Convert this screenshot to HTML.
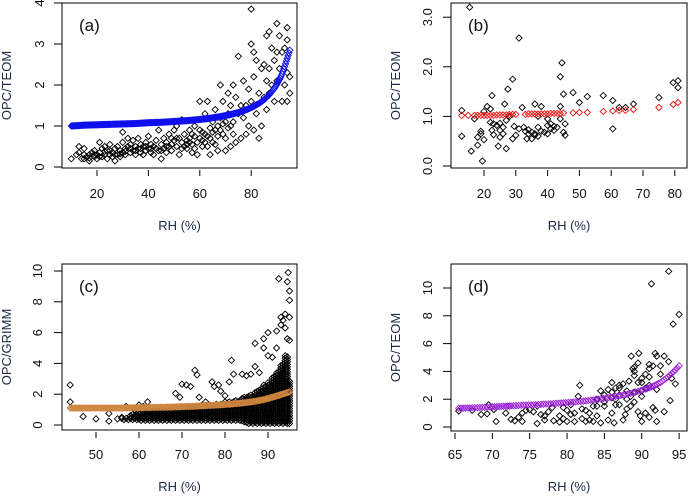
<!DOCTYPE html>
<html><head><meta charset="utf-8">
<style>
body{margin:0;background:#fff;}
svg text{font-family:"Liberation Sans",sans-serif;}
</style></head>
<body>
<svg id="chart" width="688" height="495" viewBox="0 0 688 495" xmlns="http://www.w3.org/2000/svg"></svg>
<script>
// ---------- DATA ----------
const aPoints = "10,0.2 12,0.3 13,0.35 13,0.5 14,0.2 15,0.3 15,0.45 16,0.25 17,0.3 17,0.15 18,0.35 19,0.25 19,0.4 20,0.2 20,0.3 21,0.6 21,0.35 22,0.25 22,0.45 23,0.3 23,0.5 24,0.2 24,0.4 25,0.3 25,0.55 26,0.35 26,0.25 27,0.45 27,0.15 28,0.3 28,0.5 29,0.4 29,0.25 30,0.35 30,0.6 30,0.85 31,0.45 31,0.3 32,0.5 32,0.7 33,0.35 33,0.55 34,0.4 34,0.65 35,0.3 35,0.5 36,0.7 36,0.45 37,0.35 37,0.55 38,0.5 38,0.3 39,0.6 39,0.4 40,0.45 40,0.75 41,0.35 41,0.55 42,0.5 42,0.3 43,0.65 44,0.4 44,0.9 45,0.55 45,0.2 46,0.45 46,0.7 47,0.6 47,0.35 48,0.5 48,0.8 49,0.55 49,0.4 50,0.65 50,0.9 51,0.5 51,1.0 52,0.7 52,0.3 53,0.6 53,1.15 54,0.5 54,0.8 55,0.65 55,0.45 56,0.7 56,0.9 57,0.55 57,0.35 58,0.75 58,1.0 59,0.6 59,0.3 60,0.7 60,1.6 61,0.5 61,0.85 62,0.6 62,1.3 63,0.75 63,1.6 64,0.95 64,0.3 65,0.6 65,1.1 66,0.9 66,1.4 67,1.0 67,0.4 68,1.2 68,2.0 69,0.8 69,1.6 70,1.1 70,0.4 71,1.3 71,1.8 72,0.5 72,1.5 73,2.0 73,1.1 74,0.6 74,1.7 75,2.7 75,1.3 76,0.7 76,1.5 77,1.2 77,2.1 78,0.8 78,1.5 79,1.9 79,1.0 80,3.85 80,3.0 80,1.6 81,2.8 81,0.9 81,2.2 82,2.6 82,1.3 83,1.8 83,0.7 84,2.4 84,1.0 85,2.5 85,1.7 86,3.2 86,2.1 86,1.4 87,3.3 87,2.4 87,1.8 88,2.9 88,2.0 89,2.6 89,1.6 90,3.5 90,2.8 90,2.1 91,3.2 91,2.4 92,2.8 92,1.6 93,2.9 93,2.0 94,3.4 94,3.1 94,2.3 94,1.6 95,2.2 95,1.8 60,0.9 61,0.65 62,0.8 63,0.5 64,0.7 65,0.85 66,0.55 67,0.75 68,0.9 69,1.05 70,0.7 71,0.95 72,1.0 73,0.8 55,0.55 56,0.6 57,0.8 58,0.45 53,0.45 51,0.7 49,0.7 47,0.5 45,0.4 43,0.45 41,0.45 39,0.5 37,0.45 35,0.4 33,0.45 31,0.38 29,0.32 27,0.3 25,0.4 23,0.38 21,0.25 19,0.3 17,0.22 15,0.2";
const aFitX = [10,15,20,25,30,35,40,45,50,55,60,63,66,69,72,75,77,79,81,83,85,86,87,88,89,90,91,92,93,94,95];
const aFitY = [1.0,1.02,1.03,1.04,1.05,1.06,1.08,1.09,1.11,1.13,1.16,1.18,1.21,1.24,1.28,1.33,1.37,1.42,1.48,1.55,1.64,1.7,1.76,1.84,1.92,2.02,2.13,2.27,2.45,2.65,2.85];

const bPoints = "13,1.12 13,0.6 15.5,3.2 16,0.3 17,0.95 18,0.42 18,0.58 19,0.7 19,0.65 19.5,0.1 20,1.1 20,0.53 21,1.2 22,1.15 22,0.88 22.5,1.42 22.5,0.72 23,0.85 23,0.63 24,0.82 24.5,0.4 25,0.86 25,0.72 25,0.58 26,0.78 26,0.65 26.5,1.25 27,0.35 27,0.92 27.5,1.55 28,1.0 29,1.75 29,0.55 29.5,0.8 30,0.62 31,2.58 31,0.75 32,1.18 32.5,0.78 33,0.7 33.5,0.55 34,0.73 34,0.65 35,0.55 35,0.68 36,1.25 36,0.65 36,0.62 37,1.0 37,0.78 37,0.6 38,1.2 38,0.7 39,0.68 40,0.95 40,0.82 40,0.65 41,0.75 41,0.85 42,0.72 42,0.8 43,0.78 44,1.8 44,1.2 44,0.95 44.5,2.08 45,1.45 45,0.68 45.5,0.62 45.5,0.85 48,1.48 50,1.28 52.5,1.4 57.5,1.42 60.5,1.32 60.5,0.75 62.5,1.18 64.5,1.18 67,1.25 75,1.38 79.5,1.68 81,1.72 81,1.58";
const bFitX = [13,15,17,18,19,20,21,22,23,24,25,26,27,28,29,30,33,34,35,36,37,38,39,40,41,42,43,44,45,48,50,52.5,57.5,60.5,62.5,64.5,67,75,79.5,81];
const bFitY = [1.02,1.02,1.02,1.02,1.02,1.02,1.02,1.02,1.02,1.03,1.03,1.03,1.03,1.04,1.04,1.04,1.04,1.05,1.05,1.05,1.05,1.05,1.05,1.05,1.06,1.06,1.06,1.06,1.07,1.07,1.08,1.08,1.1,1.11,1.12,1.12,1.14,1.18,1.24,1.28];

const cPoints = "44,2.6 44,1.5 47,0.55 50,0.4 53,0.25 53,0.75 55,0.4 56,0.5 57,1.2 58,0.6 59,1.0 60,1.3 61,1.2 62,1.5 68.5,2.05 70,2.65 71,2.6 72,2.5 73,3.55 73.5,3.25 69.5,1.8 74,1.8 75.5,1.5 77,2.8 77.5,2.5 78.5,2.6 79,2.2 80,1.9 81,2.8 81.5,4.2 82,3.3 84,3.3 85,3.2 86,3.3 87,5.3 87,3.8 88,3.4 89,5.6 89,5.0 90,6.0 90,4.5 91,4.4 92,6.1 92,5.0 92.5,9.5 93,7.0 93,6.5 93.5,6.8 94,7.2 94,6.3 94.5,9.3 94.5,5.6 94.7,9.9 95,8.7 95,8.1 95,7.0 94,4.5 95,5.5 95,0.1 94,0.3";
const cCloudX = [56,58,60,62,64,66,68,70,72,74,76,78,80,82,84,85,86,87,88,89,90,91,92,93,94,95];
const cCloudLow = [0.35,0.35,0.3,0.3,0.3,0.3,0.3,0.3,0.3,0.3,0.3,0.3,0.3,0.3,0.2,0.1,0.1,0.1,0.1,0.1,0.1,0.1,0.1,0.1,0.1,0.2];
const cCloudHigh = [0.5,0.7,0.9,0.95,1.0,1.0,1.1,1.2,1.2,1.3,1.3,1.4,1.5,1.6,1.8,1.9,2.0,2.2,2.4,2.6,2.8,3.2,3.5,4.0,4.5,3.0];
const cFitX = [44,46.5,50,52.8,54.5,55.5,56.5,57.5,58.5,59.5,61,63,65,67,69,71,73,75,77,79,81,83,85,87,88,89,90,91,92,93,94,95];
const cFitY = [1.1,1.1,1.1,1.1,1.1,1.1,1.1,1.11,1.12,1.12,1.13,1.14,1.15,1.16,1.18,1.2,1.22,1.25,1.28,1.31,1.35,1.4,1.46,1.54,1.59,1.65,1.72,1.8,1.88,1.97,2.06,2.15];

const dPoints = "65.5,1.15 67.3,1.2 68.5,0.9 69.3,0.95 69.5,1.6 70.5,0.4 70.2,1.25 71.8,1.0 72.5,0.55 73,0.45 73.5,0.7 74,1.0 74,0.4 74.5,1.2 75,1.25 75.5,1.1 76,0.25 76.5,0.9 77,0.5 77.5,1.1 78,1.4 78.2,0.45 79,0.8 79,0.35 79.5,1.4 80,1.2 80,0.4 80.5,0.9 81,1.0 81,0.4 81.5,2.2 81.7,3.0 82,1.3 82,0.6 82.5,0.4 83,0.5 83,1.0 83.5,0.4 84,2.0 84,0.8 84.5,2.6 84.5,0.3 85,1.5 85,1.8 85.5,2.7 85.5,0.5 86,2.1 86,3.2 86,1.0 86.3,0.3 86.5,2.8 87,2.3 87,1.6 87.5,3.1 87.5,0.5 88,2.0 88,1.3 88.3,3.3 88.5,1.5 88.6,5.1 88.8,4.2 89,4.0 89,4.3 89,2.5 89.5,4.6 89.5,3.2 89.6,5.3 89.5,1.1 90,3.5 90,2.2 90,0.4 90.5,3.8 90.5,2.8 90.5,1.0 91,4.2 91,4.5 91,3.0 91,0.7 91.3,10.3 91.5,4.4 91.5,1.4 91.8,5.3 91.8,1.2 92,5.1 92,2.7 92,0.4 92.5,4.4 92.5,3.8 93,5.1 93,1.1 93.6,11.2 93.6,4.7 93.8,1.9 94,3.5 94.2,7.4 94.5,3.1 95,8.1 84,1.5 85,2.3 87,2.8 88.5,2.2 89,1.8 90,2.6 82.5,1.2 83.5,1.5 86.5,1.6 87.8,0.9 89.8,0.8 76,1.5 77,0.8 79.5,0.6 80.5,1.6 86,2.5 86.5,2.0 87,3.0 88,2.6 89,3.7 90,3.2 91,3.6";
const dFitX = [65.5,67.3,69,70,71.8,72.5,73.5,74.5,75.5,76.5,77.5,78.5,79.5,80.5,81.5,82.5,83.5,84.5,85.5,86.5,87.5,88.5,89.5,90.5,91,91.5,92,92.5,93,93.5,94,94.5,95];
const dFitY = [1.35,1.38,1.42,1.45,1.5,1.52,1.55,1.58,1.6,1.63,1.66,1.7,1.74,1.78,1.83,1.88,1.95,2.02,2.1,2.2,2.3,2.42,2.56,2.72,2.82,2.93,3.06,3.2,3.4,3.6,3.85,4.1,4.4];

const aYTicks = ["0","1","2","3","4"], aYVals=[0,1,2,3,4], aXTicks=[20,40,60,80];
const bYTicks = ["0.0","1.0","2.0","3.0"], bYVals=[0,1,2,3], bXTicks=[20,30,40,50,60,70,80];
const cYTicks = ["0","2","4","6","8","10"], cYVals=[0,2,4,6,8,10], cXTicks=[50,60,70,80,90];
const dYTicks = ["0","2","4","6","8","10"], dYVals=[0,2,4,6,8,10], dXTicks=[65,70,75,80,85,90,95];

// ---------- DRAW ----------
const svg = document.getElementById('chart');
const NS = "http://www.w3.org/2000/svg";
function mk(tag, attrs, parent){const e=document.createElementNS(NS,tag);for(const k in attrs)e.setAttribute(k,attrs[k]);(parent||svg).appendChild(e);return e;}
function parsePts(s){return s.trim().split(/\s+/).map(p=>p.split(',').map(Number));}
function diamond(g,x,y,col){
  const r=3.1;
  return mk('path',{d:`M${x} ${y-r}L${x+r} ${y}L${x} ${y+r}L${x-r} ${y}Z`,fill:'none',stroke:col,'stroke-width':0.9},g);
}

function panel(P){
  const g = mk('g',{});
  
  
  const sx = v => P.x0px + (v - P.x0) * P.xs;
  const sy = v => P.y0px - (v - P.y0) * P.ys;
  const box = mk('rect',{x:P.L,y:P.T,width:P.R-P.L,height:P.B-P.T,fill:'none',stroke:'#000','stroke-width':1},g);
  
  
  if(P.cloudX){
    for(let i=0;i<P.cloudX.length;i++){
      const x0=P.cloudX[i], x1=i<P.cloudX.length-1?P.cloudX[i+1]:x0+0.5;
      let row=0;
      for(let xx=x0; xx<x1; xx+=0.5){
        row++;
        for(let yy=P.cloudLow[i]+(row%2)*0.08; yy<=P.cloudHigh[i]; yy+=0.16){
          const c=diamond(g,sx(xx),sy(yy),'#000');
          
          
        }
      }
    }
  }
  parsePts(P.pts).forEach(([x,y])=>{
    const c=diamond(g,sx(x),sy(y),'#000');
    
    
  });
  const fitPts=[];
  for(let i=0;i<P.fitX.length;i++){
    fitPts.push([P.fitX[i],P.fitY[i]]);
    if(P.dense && i<P.fitX.length-1 && P.fitX[i+1]-P.fitX[i]<=5){
      const n=Math.ceil((P.fitX[i+1]-P.fitX[i])/0.35);
      for(let k=1;k<n;k++){const t=k/n;fitPts.push([P.fitX[i]+(P.fitX[i+1]-P.fitX[i])*t,P.fitY[i]+(P.fitY[i+1]-P.fitY[i])*t]);}
    }
  }
  fitPts.forEach(([x,y])=>{
    const c=diamond(g,sx(x),sy(y),P.col);
    
    
  });
  P.yVals.forEach((v,i)=>{
    mk('line',{x1:P.L-8,x2:P.L,y1:sy(v),y2:sy(v),stroke:'#000'},g);
    const t=mk('text',{x:0,y:0,'font-size':13,'text-anchor':'middle',transform:`translate(${P.ytx},${sy(v)}) rotate(-90)`,fill:'#111'},g);
    t.textContent=P.yTicks[i];
    
    
  });
  P.xTicks.forEach(v=>{
    mk('line',{x1:sx(v),x2:sx(v),y1:P.B+2,y2:P.B+8,stroke:'#000'},g);
    const t=mk('text',{x:sx(v),y:P.xty,'font-size':13,'text-anchor':'middle',fill:'#111'},g);
    t.textContent=v;
    
    
  });
  const yl=mk('text',{x:0,y:0,'font-size':13,'text-anchor':'middle',transform:`translate(${P.ylx},${(P.T+P.B)/2}) rotate(-90)`,fill:'#1c2a48'},g);
  yl.textContent=P.ylab;
  
  
  const xl=mk('text',{x:(P.L+P.R)/2,y:P.xly,'font-size':13,'text-anchor':'middle',fill:'#1c2a48'},g);
  xl.textContent='RH (%)';
  
  
  const pl=mk('text',{x:P.L+17,y:P.T+28,'font-size':17,fill:'#111'},g);
  pl.textContent='('+P.id+')';
  
  
}

panel({id:'a',L:62,R:297,T:3,B:168,x0:20,x0px:97,xs:2.57,y0:0,y0px:167,ys:41,pts:aPoints,fitX:aFitX,fitY:aFitY,col:'#1010ee',dense:true,
  yVals:aYVals,yTicks:aYTicks,xTicks:aXTicks,ytx:44,xty:198,ylx:11,xly:230,ylab:'OPC/TEOM'});
panel({id:'b',L:451,R:687,T:3,B:168,x0:20,x0px:484,xs:3.18,y0:0,y0px:166,ys:49.6,pts:bPoints,fitX:bFitX,fitY:bFitY,col:'#ee1010',dense:false,
  yVals:bYVals,yTicks:bYTicks,xTicks:bXTicks,ytx:432,xty:198,ylx:400,xly:230,ylab:'OPC/TEOM'});
panel({id:'c',L:62,R:297,T:264,B:430,x0:50,x0px:96,xs:4.3,y0:0,y0px:425,ys:15.4,pts:cPoints,fitX:cFitX,fitY:cFitY,col:'#cd853f',dense:true,
  cloudX:cCloudX,cloudLow:cCloudLow,cloudHigh:cCloudHigh,
  yVals:cYVals,yTicks:cYTicks,xTicks:cXTicks,ytx:42,xty:459,ylx:11,xly:491,ylab:'OPC/GRIMM'});
panel({id:'d',L:451,R:687,T:264,B:431,x0:65,x0px:455,xs:7.47,y0:0,y0px:427,ys:13.9,pts:dPoints,fitX:dFitX,fitY:dFitY,col:'#9a1fd6',dense:true,
  yVals:dYVals,yTicks:dYTicks,xTicks:dXTicks,ytx:432,xty:459,ylx:400,xly:491,ylab:'OPC/TEOM'});
</script>
</body></html>
